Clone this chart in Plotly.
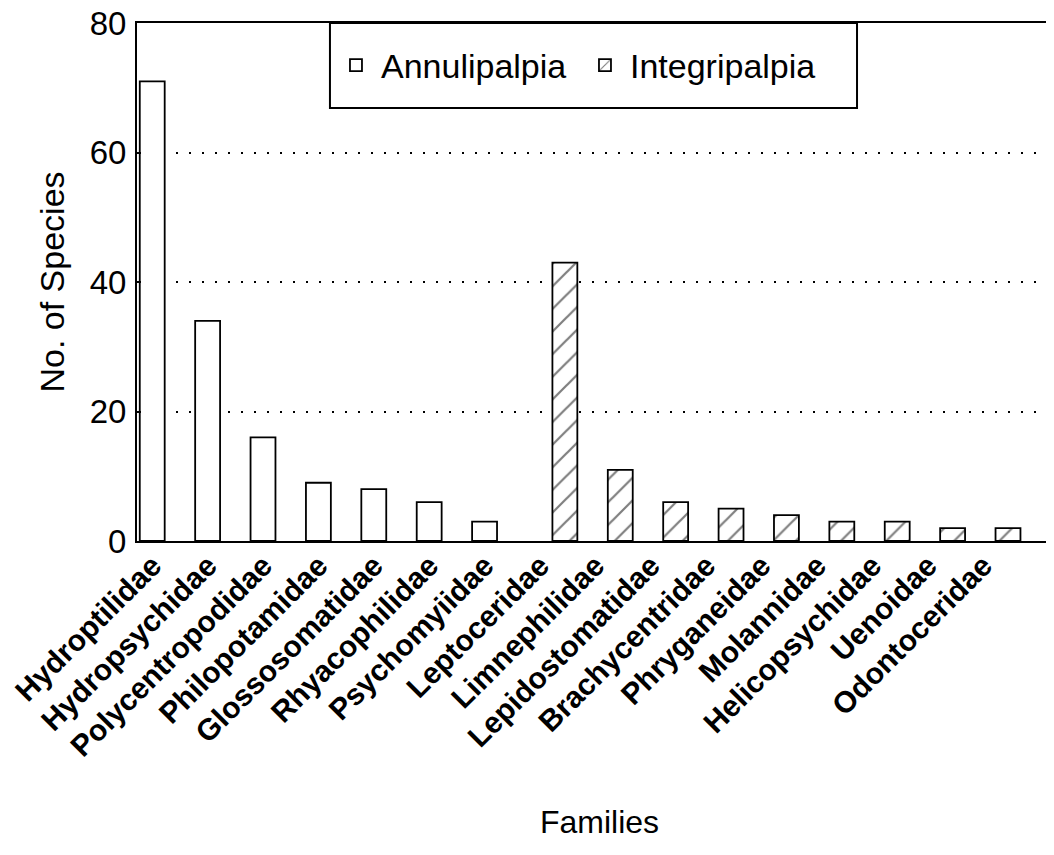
import plotly.graph_objects as go

families = ["Hydroptilidae", "Hydropsychidae", "Polycentropodidae", "Philopotamidae",
            "Glossosomatidae", "Rhyacophilidae", "Psychomyiidae", "Leptoceridae",
            "Limnephilidae", "Lepidostomatidae", "Brachycentridae", "Phryganeidae",
            "Molannidae", "Helicopsychidae", "Uenoidae", "Odontoceridae"]
annulipalpia = [71, 34, 16, 9, 8, 6, 3, None, None, None, None, None, None, None, None, None]
integripalpia = [None, None, None, None, None, None, None, 43, 11, 6, 5, 4, 3, 3, 2, 2]
y_ticks = [0, 20, 40, 60, 80]

FONT = "Liberation Sans, Arial, Helvetica, sans-serif"

fig = go.Figure()
fig.add_trace(go.Bar(
    x=families, y=annulipalpia, name="Annulipalpia",
    marker=dict(color="white", line=dict(color="black", width=1.8)),
))
fig.add_trace(go.Bar(
    x=families, y=integripalpia, name="Integripalpia",
    marker=dict(color="white", line=dict(color="black", width=1.8),
                pattern=dict(shape="/", fgcolor="black", bgcolor="white",
                             size=16, solidity=0.14)),
))

# legend frame
fig.add_shape(type="rect", xref="paper", yref="paper",
              x0=0.2086, x1=0.7784, y0=0.836, y1=1.0,
              line=dict(color="black", width=2), fillcolor="white", layer="above")

fig.update_layout(
    width=1054, height=847,
    margin=dict(l=129, r=0, t=15, b=314, autoexpand=False),
    paper_bgcolor="white", plot_bgcolor="white",
    barmode="group", bargap=0.1, bargroupgap=0,
    font=dict(family=FONT, color="black", size=30),
    showlegend=True,
    legend=dict(
        orientation="h", x=0.2097, y=0.918, xanchor="left", yanchor="middle",
        bgcolor="rgba(0,0,0,0)", borderwidth=0,
        font=dict(size=34, family=FONT, color="black"),
        itemwidth=40, entrywidth=194,
    ),
    xaxis=dict(
        type="category", range=[-0.5, 16.2], automargin=False,
        showline=True, linecolor="black", linewidth=2, mirror=True,
        ticks="", tickangle=-45, ticklabelstandoff=-7, ticklabelshift=-12,
        tickfont=dict(size=30, family=FONT, color="black", weight="bold"),
        showgrid=False,
        title=dict(text="Families", standoff=49, font=dict(size=32, family=FONT)),
    ),
    yaxis=dict(
        range=[0, 80], tickvals=y_ticks, ticklabeloverflow="allow", automargin=False,
        showline=True, linecolor="black", linewidth=2, mirror=False,
        ticks="inside", ticklen=4, tickwidth=1.5, tickcolor="black",
        ticklabelstandoff=2,
        tickfont=dict(size=33, family=FONT, color="black"),
        showgrid=True, gridcolor="black", gridwidth=2, griddash="2px,11px",
        zeroline=False,
        title=dict(text="No. of Species", standoff=15, font=dict(size=34, family=FONT)),
    ),
)

fig.write_html("out.html")
